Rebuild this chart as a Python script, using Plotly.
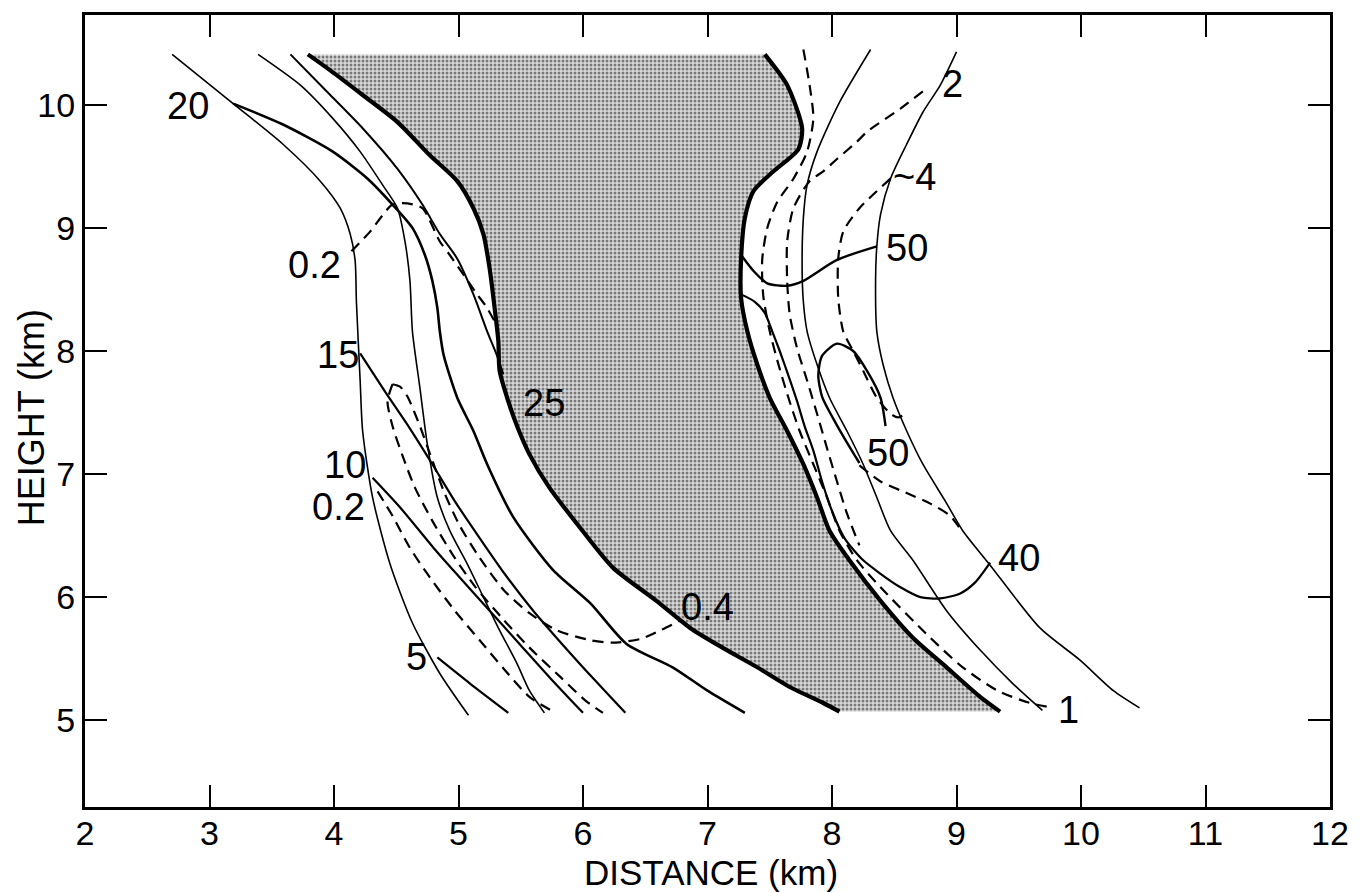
import plotly.graph_objects as go

# ---- data (km) ----
# shaded region boundaries (thick contours)
left_thick_x = [3.79, 3.97, 4.23, 4.51, 4.77, 4.99, 5.12, 5.20, 5.25, 5.29, 5.32, 5.33, 5.40, 5.47, 5.57, 5.73, 5.98, 6.24, 6.59, 6.86, 7.12, 7.40, 7.66, 7.93, 8.06]
left_thick_y = [10.41, 10.28, 10.08, 9.86, 9.59, 9.38, 9.16, 8.95, 8.67, 8.35, 8.08, 7.84, 7.59, 7.39, 7.16, 6.89, 6.56, 6.24, 5.97, 5.75, 5.59, 5.43, 5.27, 5.14, 5.07]
right_thick_x = [7.46, 7.64, 7.76, 7.73, 7.53, 7.37, 7.30, 7.27, 7.27, 7.32, 7.40, 7.50, 7.64, 7.77, 7.88, 7.98, 8.14, 8.39, 8.65, 8.92, 9.19, 9.35]
right_thick_y = [10.41, 10.16, 9.81, 9.64, 9.46, 9.30, 9.08, 8.75, 8.43, 8.16, 7.89, 7.62, 7.35, 7.08, 6.81, 6.54, 6.30, 5.97, 5.67, 5.43, 5.19, 5.07]

# thin solid contours, left group
t1_x = [2.70, 3.19, 3.59, 3.89, 4.05, 4.13, 4.17, 4.18, 4.21, 4.23, 4.31, 4.45, 4.63, 4.85, 5.08]
t1_y = [10.41, 10.01, 9.68, 9.38, 9.16, 8.95, 8.73, 8.40, 7.76, 7.35, 6.81, 6.27, 5.79, 5.38, 5.04]
t2_x = [3.39, 3.73, 3.99, 4.21, 4.39, 4.51, 4.57, 4.61, 4.63, 4.69, 4.75, 4.83, 4.93, 5.07, 5.20, 5.33, 5.47, 5.57, 5.69]
t2_y = [10.41, 10.16, 9.89, 9.62, 9.35, 9.16, 8.89, 8.57, 8.16, 7.70, 7.24, 6.81, 6.54, 6.27, 6.00, 5.73, 5.46, 5.24, 5.06]
t3_x = [3.65, 3.97, 4.23, 4.51, 4.71, 4.85, 4.99, 5.12, 5.23, 5.31, 5.36]
t3_y = [10.41, 10.08, 9.81, 9.48, 9.19, 8.95, 8.75, 8.46, 8.16, 7.96, 7.81]

# labelled solid contours, left group
c20_x = [3.19, 3.59, 3.99, 4.27, 4.47, 4.63, 4.73, 4.79, 4.83, 4.85, 4.88, 4.99, 5.12, 5.23, 5.44, 5.76, 6.06, 6.35, 6.72, 7.00, 7.30]
c20_y = [10.01, 9.84, 9.62, 9.40, 9.19, 9.00, 8.78, 8.57, 8.35, 8.16, 7.97, 7.62, 7.35, 7.08, 6.65, 6.22, 5.95, 5.62, 5.43, 5.24, 5.06]
c15_x = [4.21, 4.41, 4.61, 4.79, 4.97, 5.17, 5.37, 5.60, 5.84, 6.10, 6.34]
c15_y = [7.98, 7.67, 7.37, 7.08, 6.78, 6.48, 6.19, 5.89, 5.61, 5.32, 5.06]
c10_x = [4.31, 4.53, 4.80, 5.01, 5.25, 5.49, 5.73, 6.00]
c10_y = [6.97, 6.73, 6.40, 6.16, 5.89, 5.62, 5.35, 5.06]
c5_x = [4.83, 5.09, 5.40]
c5_y = [5.51, 5.30, 5.06]

# dashed contours, left group
d02a_x = [4.14, 4.29, 4.47, 4.59, 4.71, 4.85, 4.93, 5.04, 5.15, 5.23, 5.29]
d02a_y = [8.81, 8.97, 9.19, 9.20, 9.16, 8.89, 8.78, 8.62, 8.46, 8.35, 8.24]
d02b_x = [4.35, 4.47, 4.61, 4.77, 4.97, 5.17, 5.37, 5.57, 5.78]
d02b_y = [6.86, 6.66, 6.40, 6.16, 5.89, 5.65, 5.41, 5.19, 5.06]
d3_x = [4.47, 4.43, 4.47, 4.55, 4.65, 4.79, 4.95, 5.13, 5.35, 5.57, 5.82, 6.02, 6.16]
d3_y = [7.73, 7.59, 7.39, 7.15, 6.89, 6.62, 6.35, 6.09, 5.83, 5.59, 5.35, 5.16, 5.06]
d04_x = [4.47, 4.53, 4.59, 4.69, 4.79, 4.89, 5.01, 5.17, 5.37, 5.57, 5.79, 6.06, 6.24, 6.46, 6.62, 6.78]
d04_y = [7.73, 7.71, 7.63, 7.39, 7.11, 6.84, 6.58, 6.32, 6.05, 5.87, 5.73, 5.65, 5.63, 5.66, 5.73, 5.81]

# right group
d1_x = [7.77, 7.82, 7.85, 7.80, 7.69, 7.56, 7.48, 7.44, 7.44, 7.45, 7.50, 7.57, 7.65, 7.74, 7.85, 7.96, 8.06, 8.20, 8.39, 8.79, 9.05, 9.33, 9.59, 9.78]
d1_y = [10.45, 10.16, 9.89, 9.62, 9.40, 9.21, 9.00, 8.75, 8.57, 8.43, 8.16, 7.89, 7.62, 7.35, 7.08, 6.81, 6.54, 6.30, 6.08, 5.67, 5.43, 5.24, 5.14, 5.10]
d2_x = [8.73, 8.55, 8.28, 8.20, 8.04, 7.93, 7.82, 7.69, 7.64, 7.64, 7.66, 7.72, 7.80, 7.88, 7.96, 8.04, 8.12, 8.22]
d2_y = [10.11, 9.97, 9.78, 9.70, 9.56, 9.46, 9.38, 9.16, 8.89, 8.57, 8.30, 8.02, 7.76, 7.49, 7.21, 6.94, 6.68, 6.42]
rc_x = [8.31, 8.06, 7.88, 7.80, 7.77, 7.76, 7.77, 7.80, 7.88, 7.98, 8.12, 8.25, 8.36, 8.47, 8.65, 8.92, 9.19, 9.45, 9.69]
rc_y = [10.45, 10.02, 9.62, 9.35, 9.08, 8.67, 8.40, 8.16, 7.89, 7.62, 7.35, 7.08, 6.81, 6.54, 6.30, 5.89, 5.57, 5.30, 5.08]
rd_x = [9.00, 8.87, 8.73, 8.60, 8.47, 8.39, 8.36, 8.35, 8.36, 8.41, 8.49, 8.60, 8.73, 8.91, 9.05, 9.27, 9.67, 9.99, 10.26, 10.47]
rd_y = [10.43, 10.16, 9.94, 9.68, 9.40, 9.11, 8.85, 8.57, 8.16, 7.89, 7.62, 7.35, 7.08, 6.78, 6.54, 6.26, 5.75, 5.49, 5.24, 5.10]
c50a_x = [7.27, 7.37, 7.48, 7.64, 7.77, 8.04, 8.36]
c50a_y = [8.78, 8.65, 8.55, 8.53, 8.57, 8.74, 8.85]
d4_x = [8.47, 8.22, 8.09, 8.05, 8.05, 8.09, 8.17, 8.25, 8.36, 8.47, 8.53, 8.59]
d4_y = [9.40, 9.16, 8.97, 8.75, 8.43, 8.16, 8.00, 7.84, 7.62, 7.49, 7.46, 7.49]
c50b_x = [8.43, 8.39, 8.28, 8.17, 8.04, 7.92, 7.89, 7.92, 8.01, 8.10, 8.22]
c50b_y = [7.39, 7.62, 7.84, 8.00, 8.06, 7.96, 7.80, 7.63, 7.45, 7.29, 7.09]
d50_x = [8.22, 8.39, 8.59, 8.79, 8.95, 9.04]
d50_y = [7.07, 6.94, 6.85, 6.76, 6.66, 6.54]
c40_x = [7.27, 7.38, 7.46, 7.52, 7.58, 7.65, 7.72, 7.78, 7.85, 7.92, 8.00, 8.10, 8.24, 8.39, 8.55, 8.71, 8.87, 9.03, 9.15, 9.27]
c40_y = [8.46, 8.40, 8.31, 8.16, 8.00, 7.80, 7.59, 7.39, 7.19, 6.94, 6.70, 6.48, 6.31, 6.19, 6.08, 6.00, 5.99, 6.03, 6.12, 6.28]

# contour labels
label_text = ["20", "0.2", "15", "10", "0.2", "5", "25", "0.4", "2", "~4", "50", "50", "40", "1"]
label_x = [2.83, 3.84, 4.03, 4.09, 4.04, 4.66, 5.69, 7.00, 8.97, 8.66, 8.60, 8.45, 9.50, 9.90]
label_y = [9.99, 8.70, 7.97, 7.07, 6.73, 5.51, 7.58, 5.92, 10.17, 9.41, 8.84, 7.17, 6.32, 5.08]

x_ticks = list(range(2, 13))
y_ticks = list(range(5, 11))

FONT = "Liberation Sans"
fig = go.Figure()

# shaded region (stipple)
poly_x = right_thick_x + left_thick_x[::-1]
poly_y = right_thick_y + left_thick_y[::-1]
fig.add_trace(go.Scatter(x=poly_x, y=poly_y, mode="lines", fill="toself",
                         line=dict(width=0, color="rgba(0,0,0,0)"),
                         fillcolor="#b4b4b4",
                         fillpattern=dict(shape=".", fgcolor="#1a1a1a", bgcolor="#dadada",
                                          size=4, solidity=0.45),
                         hoverinfo="skip", showlegend=False))

def add_line(xs, ys, width, dash="solid"):
    fig.add_trace(go.Scatter(x=xs, y=ys, mode="lines",
                             line=dict(color="black", width=width, dash=dash,
                                       shape="spline", smoothing=0.7),
                             hoverinfo="skip", showlegend=False))

DASH = "11px,7px"
add_line(left_thick_x, left_thick_y, 4.2)
add_line(right_thick_x, right_thick_y, 4.2)
add_line(t1_x, t1_y, 1.6)
add_line(t2_x, t2_y, 1.6)
add_line(t3_x, t3_y, 2.0)
add_line(c20_x, c20_y, 2.6)
add_line(c15_x, c15_y, 2.2)
add_line(c10_x, c10_y, 2.2)
add_line(c5_x, c5_y, 2.2)
add_line(d02a_x, d02a_y, 2.2, DASH)
add_line(d02b_x, d02b_y, 2.2, DASH)
add_line(d3_x, d3_y, 2.2, DASH)
add_line(d04_x, d04_y, 2.2, DASH)
add_line(d1_x, d1_y, 2.2, DASH)
add_line(d2_x, d2_y, 2.2, DASH)
add_line(rc_x, rc_y, 1.6)
add_line(rd_x, rd_y, 1.6)
add_line(c50a_x, c50a_y, 2.4)
add_line(d4_x, d4_y, 2.2, DASH)
add_line(c50b_x, c50b_y, 2.4)
add_line(d50_x, d50_y, 2.2, DASH)
add_line(c40_x, c40_y, 2.2)

annotations = []
for t, x, y in zip(label_text, label_x, label_y):
    annotations.append(dict(x=x, y=y, xref="x", yref="y", text=t, showarrow=False,
                            font=dict(family=FONT, size=38, color="black")))
annotations.append(dict(x=0.503, y=-0.083, xref="paper", yref="paper", text="DISTANCE (km)",
                        showarrow=False, font=dict(family=FONT, size=35, color="black"),
                        xanchor="center", yanchor="middle"))
annotations.append(dict(x=-0.0434, y=0.492, xref="paper", yref="paper", text="HEIGHT (km)",
                        showarrow=False, textangle=-90,
                        font=dict(family=FONT, size=36, color="black"),
                        xanchor="center", yanchor="middle"))

axis_common = dict(showgrid=False, zeroline=False, showline=True, linecolor="black", linewidth=3,
                   mirror="allticks", ticks="inside", ticklen=22, tickwidth=2, tickcolor="black",
                   tickfont=dict(family=FONT, size=34, color="black"))
fig.update_layout(
    width=1367, height=892,
    margin=dict(l=85, r=37, t=13, b=85),
    paper_bgcolor="white", plot_bgcolor="white",
    xaxis=dict(range=[2, 12], tickvals=x_ticks, ticktext=[str(v) for v in x_ticks],
               ticklabelstandoff=-6, **axis_common),
    yaxis=dict(range=[4.295, 10.73], tickvals=y_ticks, ticktext=[str(v) for v in y_ticks], **axis_common),
    annotations=annotations,
)
fig.write_html("out.html")
